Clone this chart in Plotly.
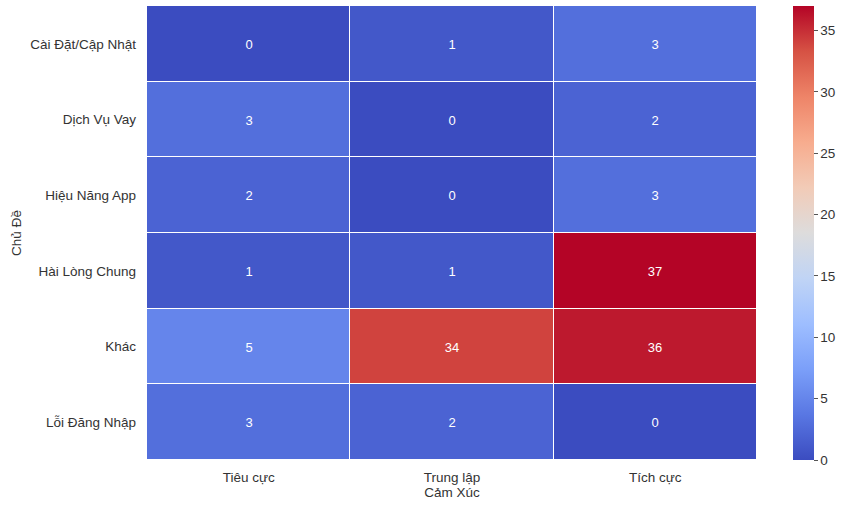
import plotly.graph_objects as go

topics = ["Cài Đặt/Cập Nhật", "Dịch Vụ Vay", "Hiệu Năng App", "Hài Lòng Chung", "Khác", "Lỗi Đăng Nhập"]
sentiments = ["Tiêu cực", "Trung lập", "Tích cực"]
counts = [
    [0, 1, 3],
    [3, 0, 2],
    [2, 0, 3],
    [1, 1, 37],
    [5, 34, 36],
    [3, 2, 0],
]

coolwarm = [
    [0.0, "#3b4cc0"], [0.1, "#5977e3"], [0.2, "#7b9ff9"], [0.3, "#9ebeff"],
    [0.4, "#c0d4f5"], [0.5, "#dddcdc"], [0.6, "#f2cbb7"], [0.7, "#f7ac8e"],
    [0.8, "#ee8468"], [0.9, "#d65244"], [1.0, "#b40426"],
]

font_family = "Liberation Sans, Arial, sans-serif"
fs = 13.5

fig = go.Figure(go.Heatmap(
    z=counts, x=sentiments, y=topics,
    colorscale=coolwarm, zmin=0, zmax=37,
    xgap=1, ygap=1,
    texttemplate="%{z}", textfont=dict(color="white", size=13, family=font_family),
    colorbar=dict(
        x=1.059, xanchor="left", xpad=0, ypad=0,
        y=0.5, yanchor="middle", len=1, lenmode="fraction",
        thickness=21, outlinewidth=0,
        tickvals=[0, 5, 10, 15, 20, 25, 30, 35],
        ticks="outside", ticklen=4, tickcolor="#555555",
        tickfont=dict(size=fs, color="#333333", family=font_family),
    ),
    hoverongaps=False,
))

fig.update_layout(
    width=850, height=512,
    margin=dict(l=147, r=93, t=6, b=52),
    plot_bgcolor="white", paper_bgcolor="white",
    font=dict(family=font_family, size=fs, color="#333333"),
    xaxis=dict(title=dict(text="Cảm Xúc", standoff=4, font=dict(size=fs)), showgrid=False,
               ticks="", ticklabelstandoff=7, zeroline=False, tickfont=dict(size=fs)),
    yaxis=dict(title=dict(text="Chủ Đề", standoff=5, font=dict(size=fs)), showgrid=False,
               ticks="", autorange="reversed", ticklabelstandoff=10, zeroline=False,
               tickfont=dict(size=fs)),
)

fig.write_html("out.html")
